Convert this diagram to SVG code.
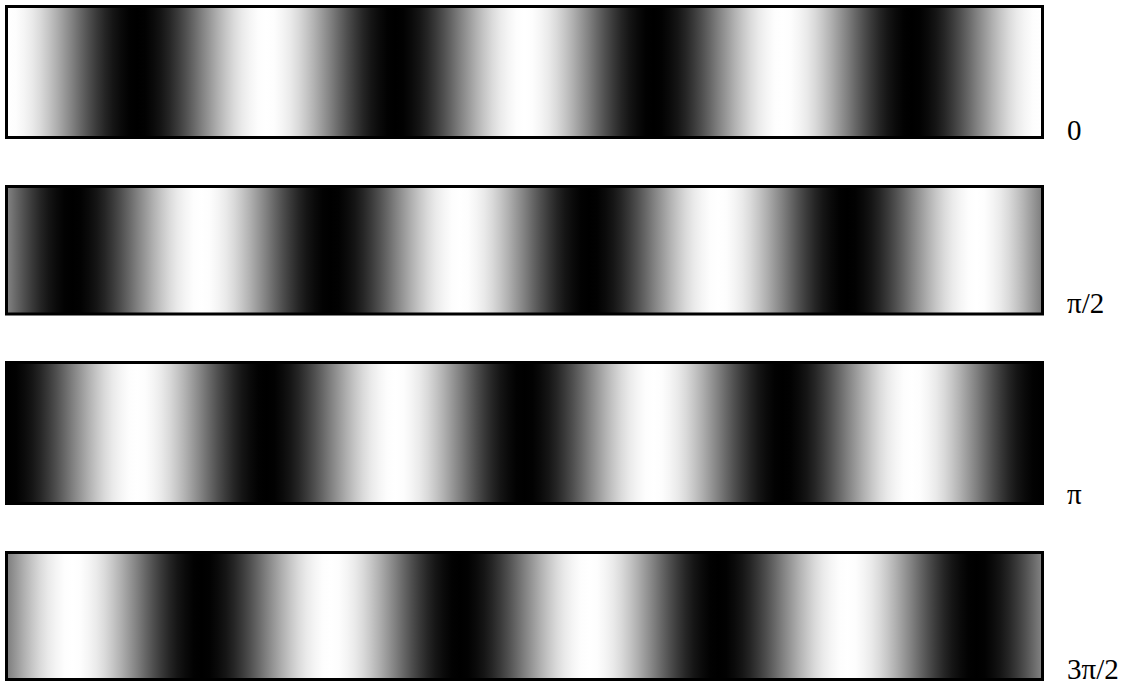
<svg xmlns="http://www.w3.org/2000/svg" width="1135" height="686" viewBox="0 0 1135 686">
<style>
.bar{stroke:#000;stroke-width:3}
.lbl{font-family:"Liberation Serif","Times New Roman",serif;font-size:29px;fill:#000}
</style>
<defs>
<linearGradient id="g0" gradientUnits="userSpaceOnUse" x1="8" y1="0" x2="266.25" y2="0" spreadMethod="repeat">
<stop offset="0" stop-color="rgb(255,255,255)"/>
<stop offset="0.03125" stop-color="rgb(253,253,253)"/>
<stop offset="0.0625" stop-color="rgb(245,245,245)"/>
<stop offset="0.09375" stop-color="rgb(234,234,234)"/>
<stop offset="0.125" stop-color="rgb(218,218,218)"/>
<stop offset="0.15625" stop-color="rgb(198,198,198)"/>
<stop offset="0.1875" stop-color="rgb(176,176,176)"/>
<stop offset="0.21875" stop-color="rgb(152,152,152)"/>
<stop offset="0.25" stop-color="rgb(128,128,128)"/>
<stop offset="0.28125" stop-color="rgb(103,103,103)"/>
<stop offset="0.3125" stop-color="rgb(79,79,79)"/>
<stop offset="0.34375" stop-color="rgb(57,57,57)"/>
<stop offset="0.375" stop-color="rgb(37,37,37)"/>
<stop offset="0.40625" stop-color="rgb(21,21,21)"/>
<stop offset="0.4375" stop-color="rgb(10,10,10)"/>
<stop offset="0.46875" stop-color="rgb(2,2,2)"/>
<stop offset="0.5" stop-color="rgb(0,0,0)"/>
<stop offset="0.53125" stop-color="rgb(2,2,2)"/>
<stop offset="0.5625" stop-color="rgb(10,10,10)"/>
<stop offset="0.59375" stop-color="rgb(21,21,21)"/>
<stop offset="0.625" stop-color="rgb(37,37,37)"/>
<stop offset="0.65625" stop-color="rgb(57,57,57)"/>
<stop offset="0.6875" stop-color="rgb(79,79,79)"/>
<stop offset="0.71875" stop-color="rgb(103,103,103)"/>
<stop offset="0.75" stop-color="rgb(128,128,128)"/>
<stop offset="0.78125" stop-color="rgb(152,152,152)"/>
<stop offset="0.8125" stop-color="rgb(176,176,176)"/>
<stop offset="0.84375" stop-color="rgb(198,198,198)"/>
<stop offset="0.875" stop-color="rgb(218,218,218)"/>
<stop offset="0.90625" stop-color="rgb(234,234,234)"/>
<stop offset="0.9375" stop-color="rgb(245,245,245)"/>
<stop offset="0.96875" stop-color="rgb(253,253,253)"/>
<stop offset="1" stop-color="rgb(255,255,255)"/>
</linearGradient>
<linearGradient id="g1" href="#g0" x1="-56.5625" x2="201.6875"/>
<linearGradient id="g2" href="#g0" x1="-121.125" x2="137.125"/>
<linearGradient id="g3" href="#g0" x1="-185.6875" x2="72.5625"/>
</defs>
<g id="bar-0">
<rect class="bar" x="6.5" y="6.5" width="1036" height="131" fill="url(#g0)"/>
<text class="lbl" x="1067" y="140">0</text>
</g>
<g id="bar-pi2">
<rect class="bar" x="6.5" y="186.5" width="1036" height="127.5" fill="url(#g1)"/>
<text class="lbl" x="1067" y="313">π/2</text>
</g>
<g id="bar-pi">
<rect class="bar" x="6.5" y="362.5" width="1036" height="141" fill="url(#g2)"/>
<text class="lbl" x="1067" y="504">π</text>
</g>
<g id="bar-3pi2">
<rect class="bar" x="6.5" y="552.5" width="1036" height="127" fill="url(#g3)"/>
<text class="lbl" x="1067" y="679">3π/2</text>
</g>
<g id="connectors"/>
</svg>
